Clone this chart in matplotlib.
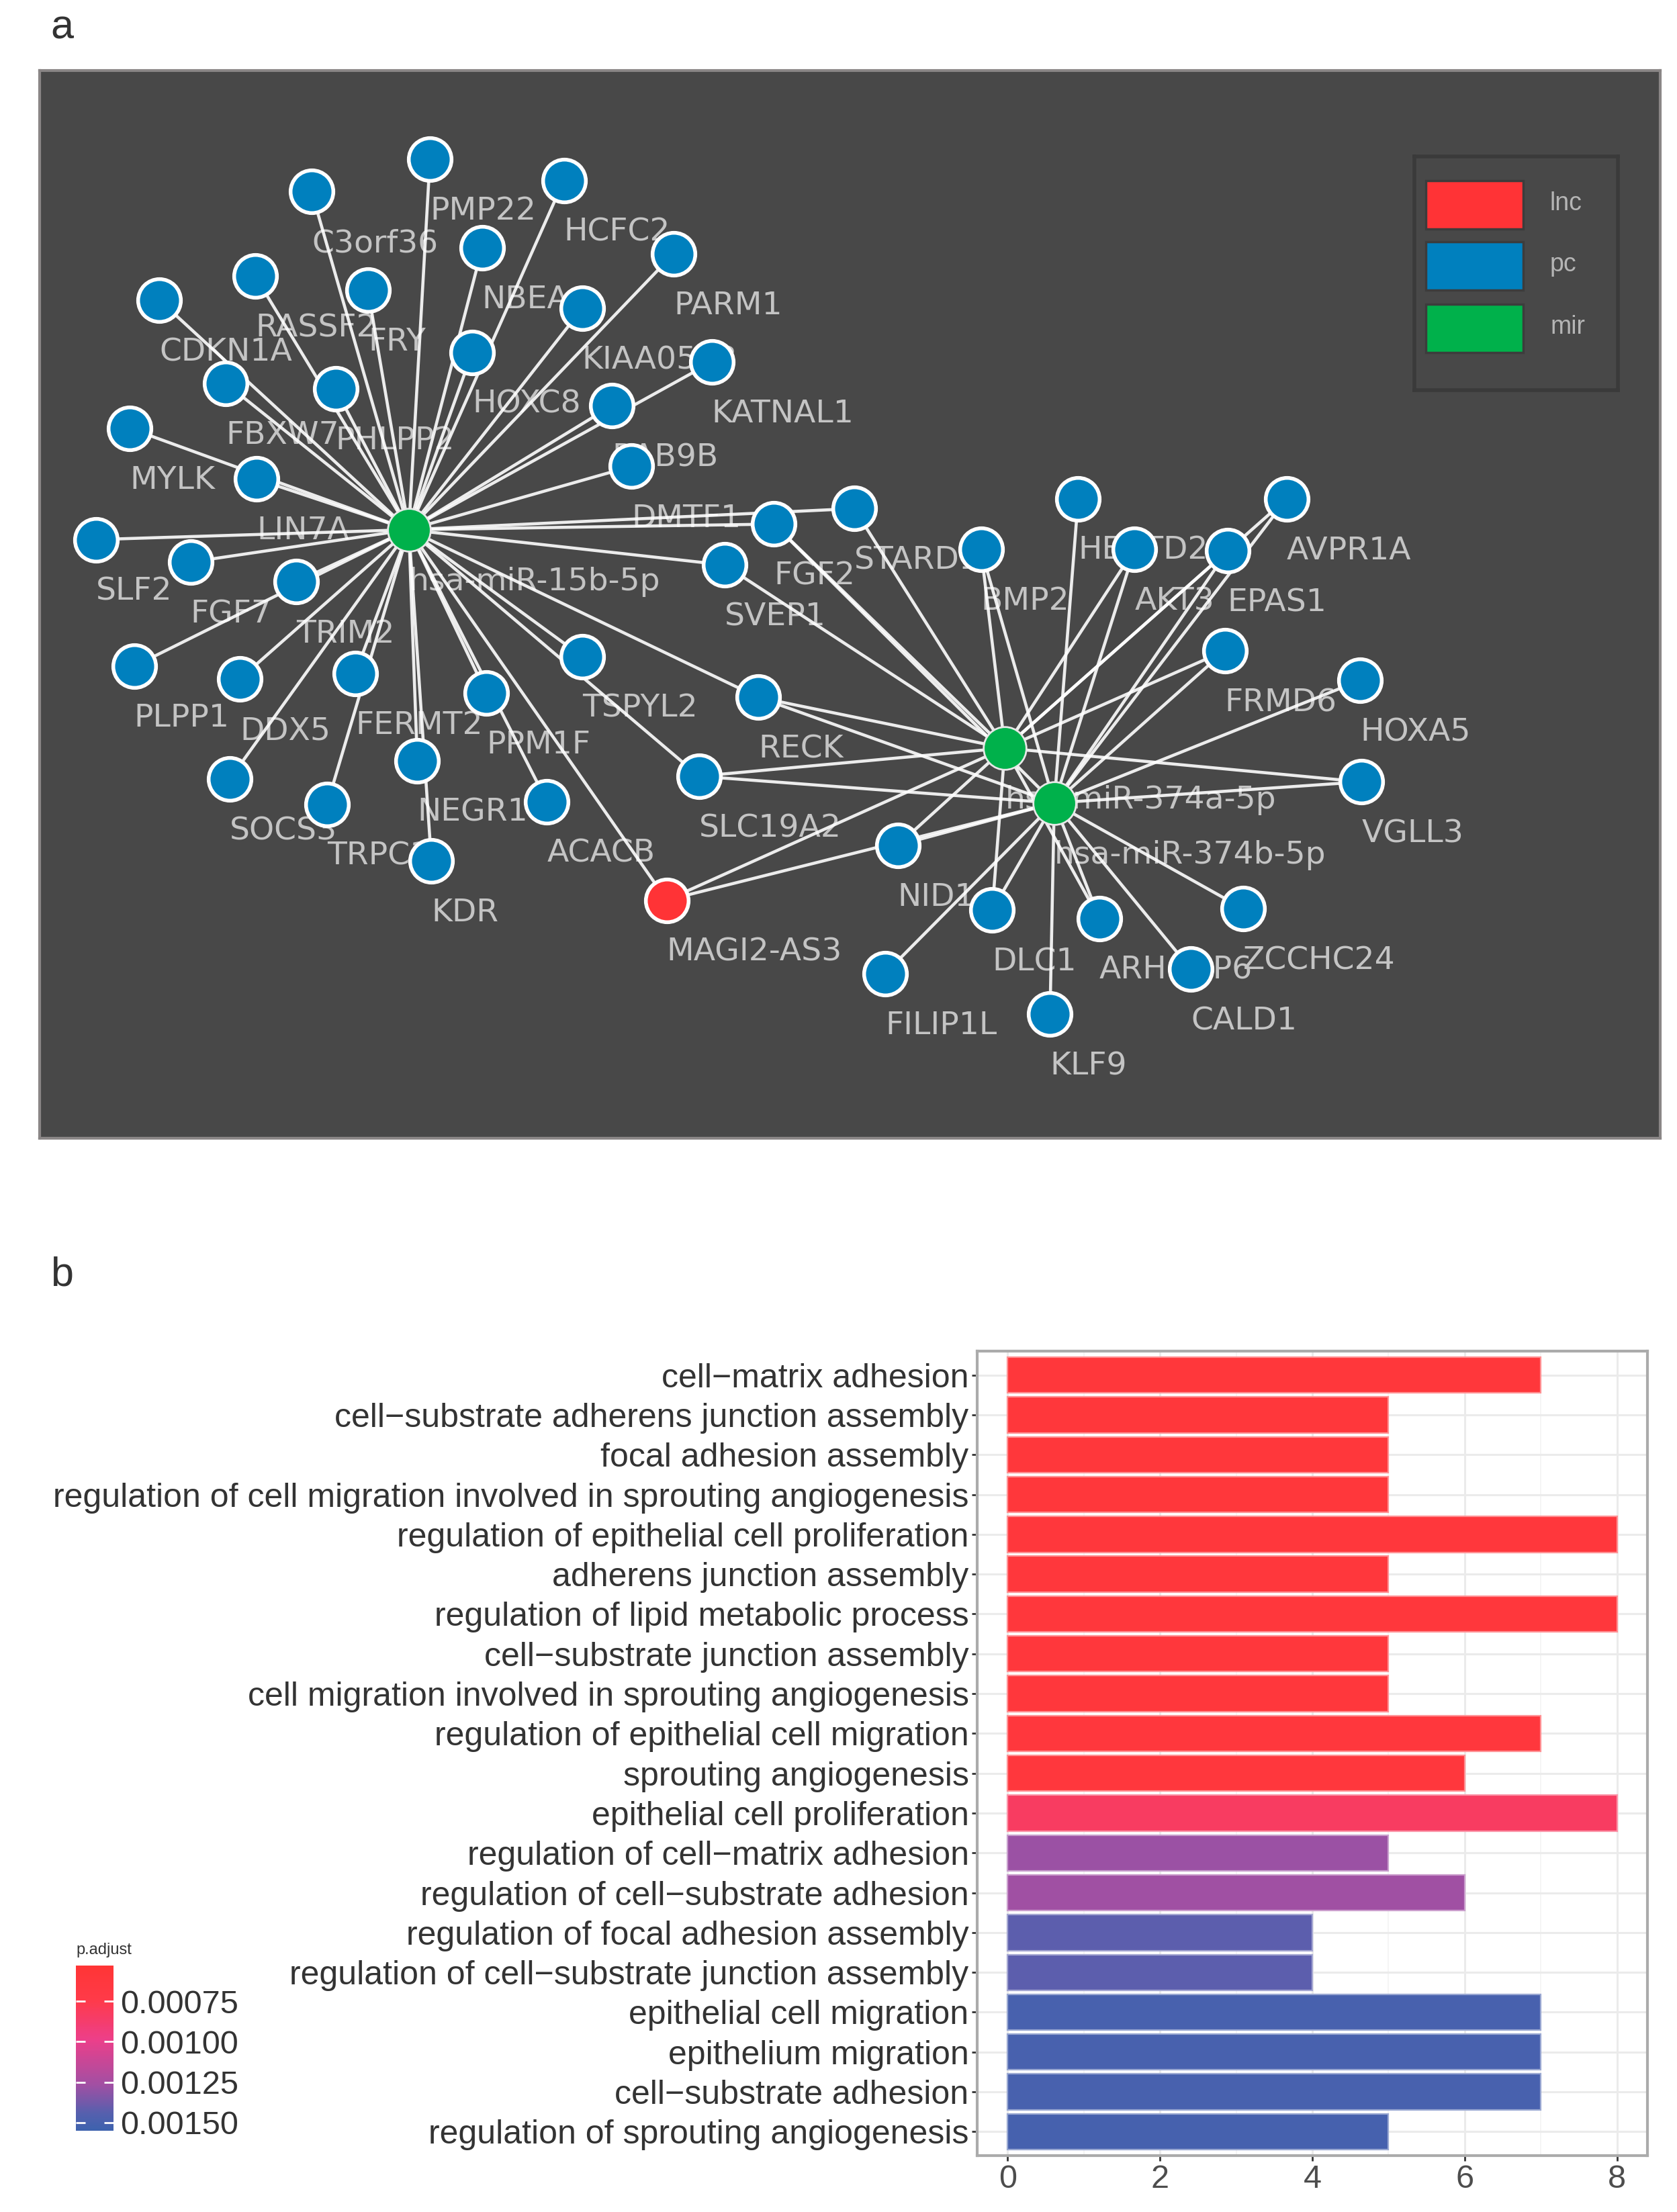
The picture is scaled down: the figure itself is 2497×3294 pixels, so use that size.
import numpy as np
import matplotlib
matplotlib.use('Agg')
import matplotlib.pyplot as plt
from matplotlib.patches import Rectangle
from matplotlib.colors import LinearSegmentedColormap, Normalize
import matplotlib.colorbar as mcolorbar

# ---------------- datos de la red (panel a) ----------------
node_names = ['hsa-miR-15b-5p', 'hsa-miR-374a-5p', 'hsa-miR-374b-5p', 'MAGI2-AS3',
              'C3orf36', 'PMP22', 'HCFC2', 'NBEA', 'PARM1', 'RASSF2', 'FRY', 'CDKN1A',
              'KIAA0513', 'HOXC8', 'KATNAL1', 'FBXW7', 'PHLPP2', 'RAB9B', 'DMTF1', 'MYLK',
              'LIN7A', 'SLF2', 'FGF7', 'TRIM2', 'PLPP1', 'DDX5', 'FERMT2', 'PPM1F',
              'TSPYL2', 'SOCS3', 'TRPC1', 'NEGR1', 'ACACB', 'KDR', 'SVEP1', 'FGF2',
              'STARD13', 'RECK', 'SLC19A2', 'NID1', 'FILIP1L', 'DLC1', 'KLF9', 'ARHGAP6',
              'CALD1', 'ZCCHC24', 'VGLL3', 'HOXA5', 'FRMD6', 'EPAS1', 'AVPR1A', 'AKT3',
              'HECTD2', 'BMP2']
node_types = ['mir', 'mir', 'mir', 'lnc'] + ['pc'] * 50
# posiciones del layout
node_x = [290, 713, 748, 473,
          221, 305, 400, 342, 478, 181, 261, 113,
          413, 335, 505, 160, 238, 434, 448, 92,
          182, 68, 135, 210, 95, 170, 252, 345,
          413, 163, 232, 296, 388, 306, 514, 549,
          606, 538, 496, 637, 628, 704, 745, 780,
          845, 882, 966, 965, 869, 871, 913, 805,
          765, 696]
node_y = [376, 531, 570, 639,
          136, 113, 128, 176, 180, 196, 206, 213,
          219, 250, 257, 272, 276, 288, 331, 304,
          340, 383, 399, 413, 473, 482, 478, 492,
          466, 553, 571, 540, 569, 611, 401, 372,
          361, 495, 551, 600, 691, 646, 720, 652,
          688, 645, 555, 483, 462, 391, 354, 390,
          354, 390]

hub15b = ['C3orf36', 'PMP22', 'HCFC2', 'NBEA', 'PARM1', 'RASSF2', 'FRY', 'CDKN1A',
          'KIAA0513', 'HOXC8', 'KATNAL1', 'FBXW7', 'PHLPP2', 'RAB9B', 'DMTF1', 'MYLK',
          'LIN7A', 'SLF2', 'FGF7', 'TRIM2', 'PLPP1', 'DDX5', 'FERMT2', 'PPM1F', 'TSPYL2',
          'SOCS3', 'TRPC1', 'NEGR1', 'ACACB', 'KDR', 'SVEP1', 'FGF2', 'STARD13', 'RECK',
          'SLC19A2', 'MAGI2-AS3']
hub374a = ['MAGI2-AS3', 'SVEP1', 'FGF2', 'STARD13', 'RECK', 'SLC19A2', 'NID1', 'DLC1',
           'ARHGAP6', 'VGLL3', 'FRMD6', 'EPAS1', 'AVPR1A', 'AKT3', 'BMP2']
hub374b = ['MAGI2-AS3', 'FGF2', 'RECK', 'SLC19A2', 'NID1', 'FILIP1L', 'DLC1', 'KLF9',
           'ARHGAP6', 'CALD1', 'ZCCHC24', 'VGLL3', 'HOXA5', 'FRMD6', 'EPAS1', 'AVPR1A',
           'AKT3', 'HECTD2', 'BMP2']

edge_from = (['hsa-miR-15b-5p'] * len(hub15b) + ['hsa-miR-374a-5p'] * len(hub374a)
             + ['hsa-miR-374b-5p'] * len(hub374b))
edge_to = hub15b + hub374a + hub374b

legend_types = ['lnc', 'pc', 'mir']
type_colors = {'lnc': '#FF3336', 'pc': '#0080BE', 'mir': '#00B14B'}

# ---------------- datos GO (panel b) ----------------
go_terms = ['cell\u2212matrix adhesion',
            'cell\u2212substrate adherens junction assembly',
            'focal adhesion assembly',
            'regulation of cell migration involved in sprouting angiogenesis',
            'regulation of epithelial cell proliferation',
            'adherens junction assembly',
            'regulation of lipid metabolic process',
            'cell\u2212substrate junction assembly',
            'cell migration involved in sprouting angiogenesis',
            'regulation of epithelial cell migration',
            'sprouting angiogenesis',
            'epithelial cell proliferation',
            'regulation of cell\u2212matrix adhesion',
            'regulation of cell\u2212substrate adhesion',
            'regulation of focal adhesion assembly',
            'regulation of cell\u2212substrate junction assembly',
            'epithelial cell migration',
            'epithelium migration',
            'cell\u2212substrate adhesion',
            'regulation of sprouting angiogenesis']
go_counts = [7, 5, 5, 5, 8, 5, 8, 5, 5, 7, 6, 8, 5, 6, 4, 4, 7, 7, 7, 5]
go_padj = [0.00060, 0.00060, 0.00060, 0.00060, 0.00061, 0.00061, 0.00061, 0.00061,
           0.00061, 0.00062, 0.00062, 0.00083, 0.00128, 0.00127, 0.00143, 0.00143,
           0.00150, 0.00150, 0.00150, 0.00151]
cbar_ticks = [0.00075, 0.00100, 0.00125, 0.00150]

# ---------------- figura ----------------
W, H = 2497, 3294
fig = plt.figure(figsize=(W / 100, H / 100), dpi=100)
fig.patch.set_facecolor('white')

# panel a
ax = fig.add_axes([59 / W, 1 - 1695 / H, (2472 - 59) / W, (1695 - 105) / H])
ax.set_facecolor('#484848')
ax.set_xlim(28, 1178)
ax.set_ylim(808, 50)
ax.set_xticks([])
ax.set_yticks([])
for sp in ax.spines.values():
    sp.set_color('#8a8686')
    sp.set_linewidth(3)

pos = {n: (x, y) for n, x, y in zip(node_names, node_x, node_y)}
for a, b in zip(edge_from, edge_to):
    ax.plot([pos[a][0], pos[b][0]], [pos[a][1], pos[b][1]], color='white',
            lw=3.3, alpha=0.9, zorder=2, solid_capstyle='round')

for n, x, y in zip(node_names, node_x, node_y):
    ax.text(x, y + 37, n, fontsize=34, color='#c4c4c4', ha='left', va='center',
            family='DejaVu Sans', zorder=1)

for t in ['pc', 'lnc', 'mir']:
    xs = [x for x, tt in zip(node_x, node_types) if tt == t]
    ys = [y for y, tt in zip(node_y, node_types) if tt == t]
    if t == 'mir':
        ax.scatter(xs, ys, s=2100, c=type_colors[t], edgecolors='#e8e8e8',
                   linewidths=2, zorder=3)
    else:
        ax.scatter(xs, ys, s=2100, c=type_colors[t], edgecolors='white',
                   linewidths=4, zorder=3)

# leyenda de tipos de nodo (cuadro propio)
lx = fig.add_axes([2106 / W, 1 - 581 / H, (2409 - 2106) / W, (581 - 233) / H])
lx.set_xlim(2106, 2409)
lx.set_ylim(581, 233)
lx.set_facecolor('#484848')
lx.set_xticks([])
lx.set_yticks([])
for sp in lx.spines.values():
    sp.set_color('#3a3a3a')
    sp.set_linewidth(4)
row_top = [269, 360, 453]
for t, y0 in zip(legend_types, row_top):
    lx.add_patch(Rectangle((2123, y0), 145, 72, facecolor=type_colors[t],
                           edgecolor='#3c3c3c', linewidth=2.5))
    lx.text(2308, y0 + 34, t, fontsize=27, color='#b5b5b5', ha='left', va='center',
            family='Liberation Sans')

# panel b
cmap = LinearSegmentedColormap.from_list('padj', [(0.0, '#FF3535'), (0.2, '#FF3A48'),
                                                  (0.45, '#EC3F8A'), (0.72, '#A24FA3'),
                                                  (0.9, '#5460AE'), (1.0, '#3D62AE')])
norm = Normalize(vmin=0.00053, vmax=0.00155)

bx = fig.add_axes([1455 / W, 1 - 3210 / H, (2453 - 1455) / W, (3210 - 2012) / H])
n = len(go_terms)
ypos = np.arange(n)[::-1]
fills = [cmap(norm(p)) for p in go_padj]
edges = [tuple(0.55 * np.array(c[:3]) + 0.45) for c in fills]
bx.barh(ypos, go_counts, height=0.9, color=fills, edgecolor=edges, linewidth=1.6,
        zorder=3)
bx.set_xlim(-0.4, 8.4)
bx.set_ylim(-0.6, n - 0.4)
bx.set_xticks([0, 2, 4, 6, 8])
bx.set_xticks([1, 3, 5, 7], minor=True)
bx.set_yticks(ypos)
bx.set_yticklabels(go_terms, fontsize=36, color='#333333', family='Liberation Sans')
for lab in bx.get_xticklabels():
    lab.set_fontsize(35)
    lab.set_color('#4d4d4d')
    lab.set_family('Liberation Sans')
bx.grid(which='major', color='#ebebeb', lw=2.2, zorder=0)
bx.grid(which='minor', axis='x', color='#f3f3f3', lw=1.2, zorder=0)
bx.set_axisbelow(True)
bx.tick_params(axis='both', which='major', length=6, width=2, color='#333333', pad=3)
bx.tick_params(axis='x', which='minor', length=0)
for sp in bx.spines.values():
    sp.set_color('#ababab')
    sp.set_linewidth(3)

# barra de color
cax = fig.add_axes([113 / W, 1 - 3173 / H, 56 / W, 246 / H])
cb = mcolorbar.ColorbarBase(cax, cmap=cmap, norm=norm, orientation='vertical')
cb.outline.set_visible(False)
cax.invert_yaxis()
cb.set_ticks(cbar_ticks)
cb.set_ticklabels(['%.5f' % v for v in cbar_ticks])
cax.tick_params(color='white', direction='in', length=10, width=2, left=True, right=True,
                labelsize=35, labelcolor='#333333', pad=7)
for lab in cax.get_yticklabels():
    lab.set_family('Liberation Sans')
fig.text(113 / W, 1 - 2904 / H, 'p.adjust', fontsize=17, color='#333333',
         ha='left', va='center', family='Liberation Sans')

# letras de panel
fig.text(92 / W, 1 - 42 / H, 'a', fontsize=44, color='#333333', ha='center',
         va='center', family='Liberation Sans')
fig.text(92 / W, 1 - 1899 / H, 'b', fontsize=44, color='#333333', ha='center',
         va='center', family='Liberation Sans')

fig.savefig('out.png', dpi=100, facecolor='white')
